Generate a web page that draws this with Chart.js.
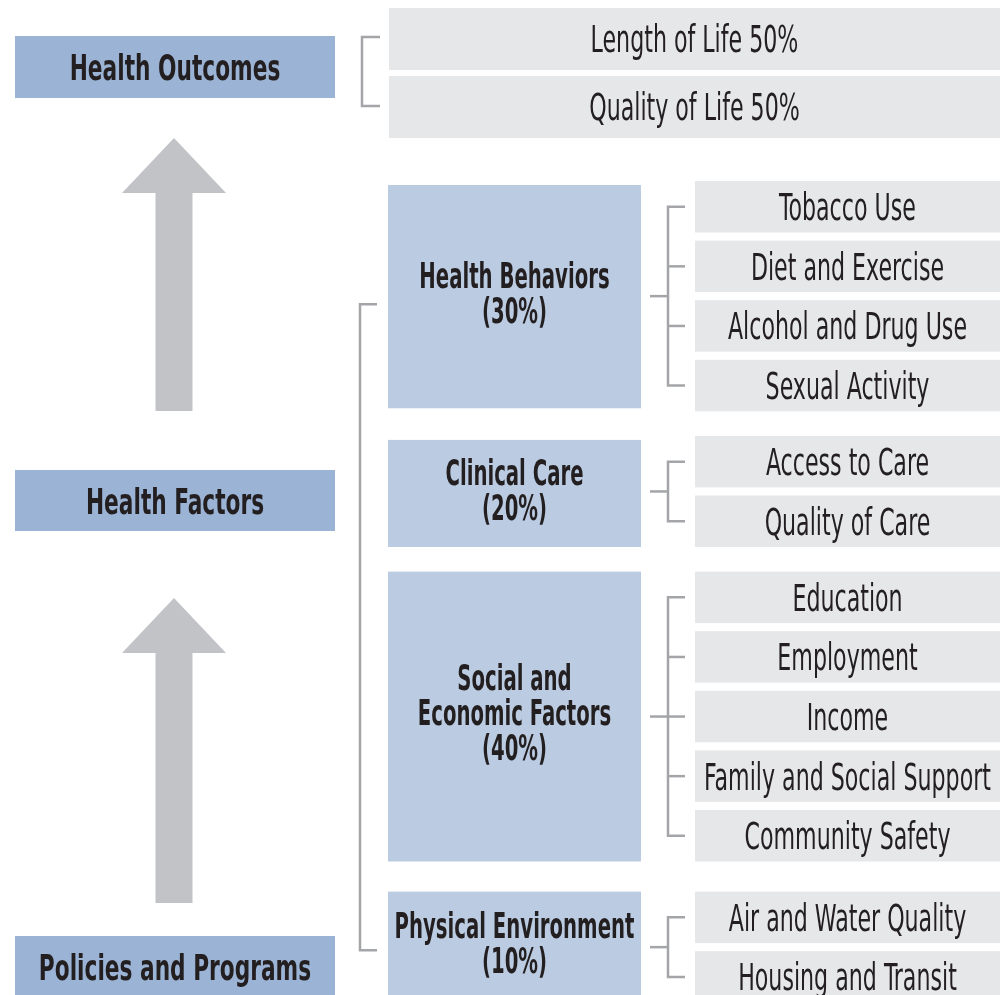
<!DOCTYPE html>
<html>
<head>
<meta charset="utf-8">
<script src="https://cdn.jsdelivr.net/npm/chart.js@4"></script>
<style>
  html, body { margin: 0; padding: 0; background: #fff; }
  #wrap { width: 1000px; height: 995px; }
</style>
</head>
<body>
<div id="wrap"><canvas id="diagrama" width="1000" height="995"></canvas></div>
<script>
// datos del modelo
const niveles = ['Health Outcomes', 'Health Factors', 'Policies and Programs'];
const resultados = ['Length of Life', 'Quality of Life'];
const pesoResultados = [50, 50];
const factores = [['Health Behaviors'], ['Clinical Care'], ['Social and', 'Economic Factors'], ['Physical Environment']];
const pesoFactores = [30, 20, 40, 10];
const conductas = ['Tobacco Use', 'Diet and Exercise', 'Alcohol and Drug Use', 'Sexual Activity'];
const clinica = ['Access to Care', 'Quality of Care'];
const social = ['Education', 'Employment', 'Income', 'Family and Social Support', 'Community Safety'];
const fisico = ['Air and Water Quality', 'Housing and Transit'];
const grupos = [conductas, clinica, social, fisico];

// colores
const azulOscuro = '#9bb3d4';
const azulClaro = '#bbcce2';
const gris = '#e6e7e9';
const flecha = '#c2c3c7';
const linea = '#a3a5a8';
const texto = '#231f20';
const fuente = '"DejaVu Sans Condensed", "Liberation Sans Narrow", "Liberation Sans", sans-serif';

// disposicion (en unidades de la escala, 1 unidad = 1px)
const paso = 59.6, altoItem = 51.5, huecos = [0, 16.5, 16.5, 22];
const cajas = [];   // {x0,x1,y0,y1,color,lineas,tipo}
const lineas = [];  // polilineas de los corchetes

// resultados de salud
resultados.forEach((r, i) => {
  cajas.push({x0: 389, x1: 1000, y0: 8 + i * 68, y1: 70 + i * 68, color: gris, lineas: [r + ' ' + pesoResultados[i] + '%'], tipo: 'item'});
});
lineas.push([[380, 37], [362, 37], [362, 106], [380, 106]]);

// niveles de la izquierda
const yNiveles = [[36, 98], [470, 531], [936, 998]];
niveles.forEach((n, i) => {
  cajas.push({x0: 15, x1: 335, y0: yNiveles[i][0], y1: yNiveles[i][1], color: azulOscuro, lineas: [n], tipo: 'nivel'});
});

// factores y sus elementos
let y = 181 - paso;
const centros = [];
grupos.forEach((g, gi) => {
  y += huecos[gi];
  const ys = [];
  g.forEach(item => {
    y += paso;
    cajas.push({x0: 695, x1: 1000, y0: y, y1: y + altoItem, color: gris, lineas: [item], tipo: 'item'});
    ys.push(y + altoItem / 2);
  });
  const top = ys[0] - altoItem / 2, bot = ys[ys.length - 1] + altoItem / 2;
  const medio = (ys[0] + ys[ys.length - 1]) / 2;
  centros.push(medio);
  cajas.push({x0: 388, x1: 641, y0: top + (gi < 2 ? 4 : 0), y1: bot - (gi === 0 ? 3 : 0), color: azulClaro,
    lineas: factores[gi].concat(['(' + pesoFactores[gi] + '%)']), tipo: 'factor'});
  // corchete de elementos
  lineas.push([[685, ys[0]], [668, ys[0]], [668, ys[ys.length - 1]], [685, ys[ys.length - 1]]]);
  ys.slice(1, -1).forEach(v => lineas.push([[668, v], [685, v]]));
  lineas.push([[650, medio], [668, medio]]);
});
// corchete grande de factores
lineas.push([[377, centros[0] + 8], [360, centros[0] + 8], [360, centros[3] + 3], [377, centros[3] + 3]]);

// flechas: punta, base de la punta, fin del tallo
const flechas = [[138, 193, 411], [598, 653, 903]];

const estilos = {
  nivel:  {size: 36, weight: 'bold', sx: 0.67},
  factor: {size: 35, weight: 'bold', sx: 0.625},
  item:   {size: 37, weight: 'normal', sx: 0.665}
};

const dibujo = {
  id: 'dibujo',
  beforeDatasetsDraw(chart) {
    const ctx = chart.ctx;
    const sx = chart.scales.x, sy = chart.scales.y;
    ctx.save();
    cajas.forEach(c => {
      const a = sx.getPixelForValue(c.x0), b = sx.getPixelForValue(c.x1);
      const t = sy.getPixelForValue(c.y0), u = sy.getPixelForValue(c.y1);
      ctx.fillStyle = c.color;
      ctx.fillRect(a, t, b - a, u - t);
    });
    ctx.fillStyle = flecha;
    flechas.forEach(f => {
      const cx = 174;
      ctx.beginPath();
      ctx.moveTo(sx.getPixelForValue(cx), sy.getPixelForValue(f[0]));
      ctx.lineTo(sx.getPixelForValue(cx + 52), sy.getPixelForValue(f[1]));
      ctx.lineTo(sx.getPixelForValue(cx + 18.5), sy.getPixelForValue(f[1]));
      ctx.lineTo(sx.getPixelForValue(cx + 18.5), sy.getPixelForValue(f[2]));
      ctx.lineTo(sx.getPixelForValue(cx - 18.5), sy.getPixelForValue(f[2]));
      ctx.lineTo(sx.getPixelForValue(cx - 18.5), sy.getPixelForValue(f[1]));
      ctx.lineTo(sx.getPixelForValue(cx - 52), sy.getPixelForValue(f[1]));
      ctx.closePath();
      ctx.fill();
    });
    ctx.restore();
  },
  afterDatasetsDraw(chart) {
    const ctx = chart.ctx;
    const sx = chart.scales.x, sy = chart.scales.y;
    ctx.save();
    ctx.fillStyle = texto;
    ctx.textAlign = 'center';
    ctx.textBaseline = 'alphabetic';
    cajas.forEach(c => {
      const e = estilos[c.tipo];
      ctx.font = e.weight + ' ' + e.size + 'px ' + fuente;
      const cap = e.size * 0.729;
      const cx = sx.getPixelForValue((c.x0 + c.x1) / 2);
      const cy = sy.getPixelForValue((c.y0 + c.y1) / 2) - (c.lineas.length > 1 ? 4 : 0);
      const n = c.lineas.length;
      c.lineas.forEach((l, i) => {
        const base = cy + (i - (n - 1) / 2) * 35 + cap / 2;
        ctx.save();
        ctx.translate(cx, base);
        ctx.scale(e.sx, 1);
        ctx.fillText(l, 0, 0);
        ctx.restore();
      });
    });
    ctx.restore();
  }
};

const datasets = lineas.map(p => ({
  data: p.map(q => ({x: q[0], y: q[1]})),
  showLine: true,
  borderColor: linea,
  borderWidth: 2.5,
  pointRadius: 0,
  fill: false,
  tension: 0
}));

const ctx = document.getElementById('diagrama');
new Chart(ctx, {
  type: 'scatter',
  data: {datasets: datasets},
  options: {
    responsive: false,
    animation: false,
    devicePixelRatio: 1,
    layout: {padding: 0},
    plugins: {legend: {display: false}, tooltip: {enabled: false}},
    events: [],
    scales: {
      x: {type: 'linear', min: 0, max: 1000, display: false},
      y: {type: 'linear', min: 0, max: 995, reverse: true, display: false}
    }
  },
  plugins: [dibujo]
});
</script>
</body>
</html>
